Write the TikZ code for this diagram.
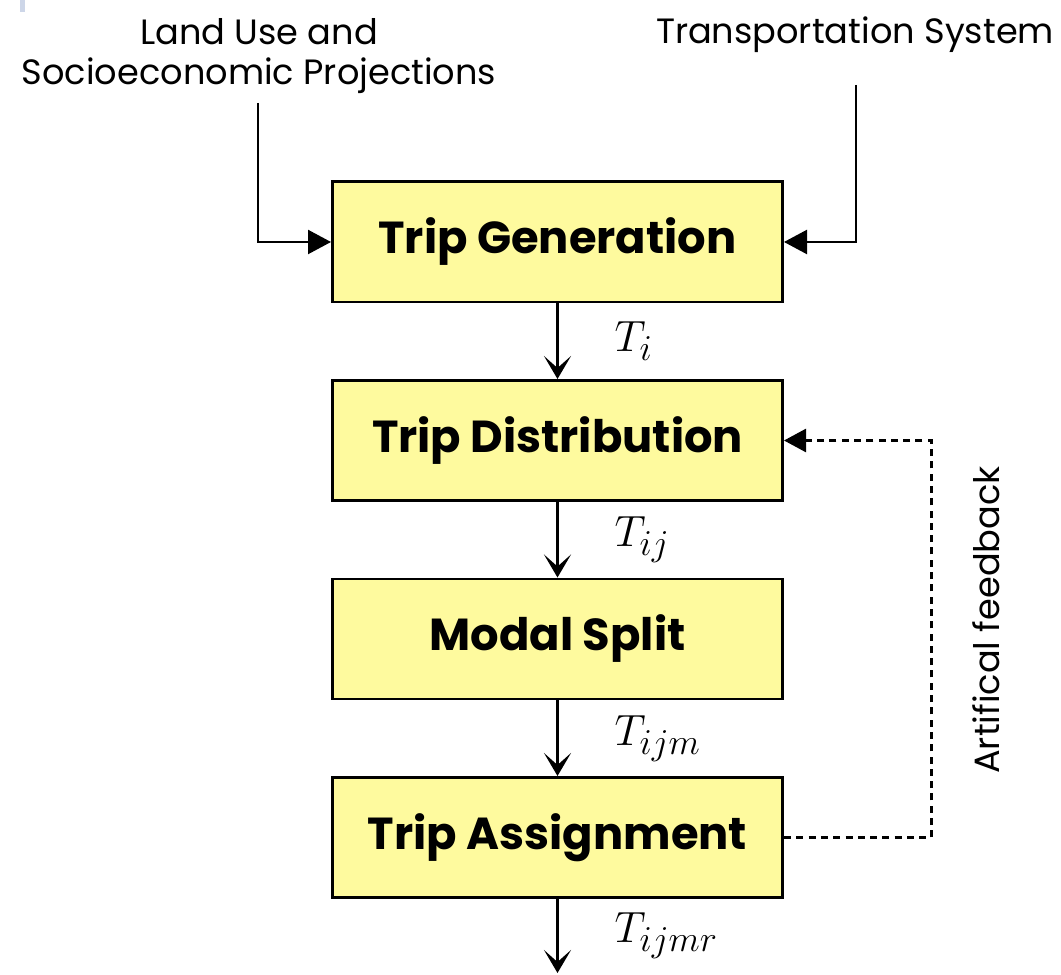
\documentclass[tikz,border=0pt]{standalone}
\usepackage{fontspec}
\setmainfont{Poppins}
\usepackage{tikz}
\usetikzlibrary{positioning,arrows.meta}
\definecolor{stageyellow}{RGB}{254,250,158}
\definecolor{cropblue}{RGB}{205,214,232}
\tikzstyle{arrow} = [line width=1.3pt,-{Stealth[length=4.6mm,width=5.4mm,inset=2.4mm]}]
\tikzstyle{input} = [line width=1.3pt,-{Triangle[length=4.6mm,width=4.8mm]}]
\tikzstyle{feedback} = [line width=1.5pt,dash pattern=on 4pt off 3pt,-{Triangle[length=4.4mm,width=4.6mm]}]

\begin{document}
\begin{tikzpicture}[node distance=3.97cm]
	\tikzstyle{stage} = [rectangle, draw=black, line width=1.7pt, fill=stageyellow, align=center, minimum height=2.4cm, minimum width=9cm, font=\fontsize{25.5}{30}\selectfont\bfseries];
	\tikzstyle{flow} = [midway, anchor=west, xshift=1cm, font=\fontsize{31}{36}\selectfont];
	\tikzstyle{caption} = [align=center, font=\fontsize{20}{23.2}\selectfont];
	\useasboundingbox (0,0) rectangle (21.22,19.48);
	\fill [cropblue] (0.4,19.24) rectangle (0.5,19.48);
	\node (generation) [stage] at (11.15,14.64) {Trip Generation};
	\node (distribution) [stage, below of=generation] {Trip Distribution};
	\node (modal) [stage, below of=distribution] {Modal Split};
	\node (assignment) [stage, below of=modal] {Trip Assignment};
	\node (landuse) [caption] at (5.18,18.36) {Land Use and\\Socioeconomic Projections};
	\node (transport) [caption] at (17.1,18.78) {Transportation System};
	\node (fblabel) [caption, rotate=90] at (19.72,7.08) {Artifical feedback};
	\coordinate (landin) at (5.16,17.42);
	\coordinate (transin) at (17.12,17.78);
	\coordinate (result) at (11.15,0.02);
	\draw [input] (landin) |- (generation.west);
	\draw [input] (transin) |- (generation.east);
	\draw [arrow] (generation) -- node[flow] {$T_i$} (distribution);
	\draw [arrow] (distribution) -- node[flow] {$T_{ij}$} (modal);
	\draw [arrow] (modal) -- node[flow] {$T_{ijm}$} (assignment);
	\draw [arrow] (assignment) -- node[flow] {$T_{ijmr}$} (result);
	\draw [feedback] (assignment.east) -- ++(2.95,0) |- (distribution.east);
\end{tikzpicture}
\end{document}
